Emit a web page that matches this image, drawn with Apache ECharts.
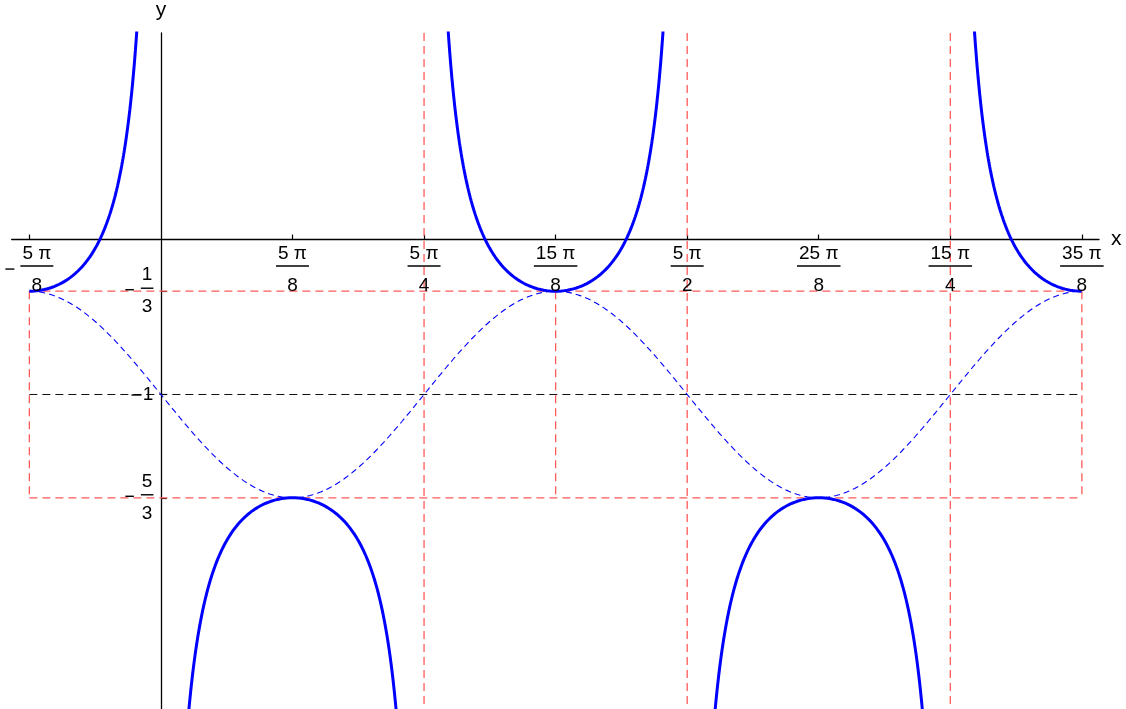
<!DOCTYPE html>
<html>
<head>
<meta charset="utf-8">
<title>y = −1 + (2/3)·sec(4/5 (x − 15π/8))</title>
<script src="https://cdn.jsdelivr.net/npm/echarts@6/dist/echarts.min.js"></script>
<style>
  html, body { margin: 0; padding: 0; background: #ffffff; }
  #chart { width: 1126px; height: 709px; }
</style>
</head>
<body>
<div id="chart"></div>
<script>
const PI = Math.PI;

// x tick positions, in multiples of π/8, and their fraction labels
const xTickEighths = [-5, 5, 10, 15, 20, 25, 30, 35];
const xTickNumerators = ['5 π', '5 π', '5 π', '15 π', '5 π', '25 π', '15 π', '35 π'];
const xTickDenominators = ['8', '8', '4', '8', '2', '8', '4', '8'];
const xTickNegative = [true, false, false, false, false, false, false, false];

// y tick positions and labels (all negative)
const yTickValues = [-1 / 3, -1, -5 / 3];
const yTickNumerators = ['1', '1', '5'];
const yTickDenominators = ['3', '', '3'];

// y = curveShift + curveAmplitude · sec(curveFrequency · (x − curvePeakX))
const curveShift = -1;
const curveAmplitude = 2 / 3;
const curveFrequency = 4 / 5;
const curvePeakX = 15 * PI / 8;
const curveDomain = [-5 * PI / 8, 35 * PI / 8];
// vertical asymptotes inside the domain (multiples of π/8)
const asymptoteEighths = [0, 10, 20, 30];
// asymptotes marked with a full-height red guide
const markedAsymptoteEighths = [10, 20, 30];
// guide box: extremes and midline of the curve
const guideTop = -1 / 3;
const guideMid = -1;
const guideBottom = -5 / 3;
const guideXEighths = [-5, 15, 35];

// view window
const xView = [-2.227, 14.0];
const yView = [-3.03, 4 / 3];

const FONT = '"Liberation Sans", Arial, sans-serif';
const LABEL_SIZE = 19;

const measureCtx = document.createElement('canvas').getContext('2d');
function textWidth(t) {
  measureCtx.font = LABEL_SIZE + 'px ' + FONT;
  return measureCtx.measureText(t).width;
}

// sampled secant branches, broken at every asymptote
function secantPoints() {
  const cuts = [curveDomain[0]].concat(asymptoteEighths.map(e => e * PI / 8)).concat([curveDomain[1]]);
  const pts = [];
  const n = 800;
  for (let s = 0; s < cuts.length - 1; s++) {
    const a = cuts[s], b = cuts[s + 1];
    const a0 = s === 0 ? a : a + 1e-4;
    const b0 = s === cuts.length - 2 ? b : b - 1e-4;
    for (let i = 0; i <= n; i++) {
      const x = a0 + (b0 - a0) * i / n;
      const c = Math.cos(curveFrequency * (x - curvePeakX));
      pts.push([x, curveShift + curveAmplitude / c]);
    }
    if (s < cuts.length - 2) pts.push([b, null]);
  }
  return pts;
}

// the matching cosine wave
function cosinePoints() {
  const pts = [];
  const n = 1200;
  for (let i = 0; i <= n; i++) {
    const x = curveDomain[0] + (curveDomain[1] - curveDomain[0]) * i / n;
    pts.push([x, curveShift + curveAmplitude * Math.cos(curveFrequency * (x - curvePeakX))]);
  }
  return pts;
}

// red dashed guide segments
function redGuides() {
  const d = [];
  const x0 = curveDomain[0], x1 = curveDomain[1];
  d.push([x0, guideTop], [x1, guideTop], [null, null]);
  d.push([x0, guideBottom], [x1, guideBottom], [null, null]);
  guideXEighths.forEach(e => {
    d.push([e * PI / 8, guideTop], [e * PI / 8, guideBottom], [null, null]);
  });
  markedAsymptoteEighths.forEach(e => {
    d.push([e * PI / 8, yView[1]], [e * PI / 8, yView[0]], [null, null]);
  });
  return d;
}

const xTickValues = xTickEighths.map(e => e * PI / 8);

function txt(text, x, y, align) {
  return {
    type: 'text',
    style: {
      text: text, x: x, y: y, align: align, verticalAlign: 'middle',
      fontSize: LABEL_SIZE, fontFamily: FONT, fill: '#000'
    }
  };
}
function bar(x1, x2, y) {
  return { type: 'line', shape: { x1: x1, y1: y, x2: x2, y2: y }, style: { stroke: '#000', lineWidth: 1.4 } };
}

function renderXLabel(params, api) {
  const i = params.dataIndex;
  const p = api.coord([api.value(0), 0]);
  const num = xTickNumerators[i], den = xTickDenominators[i];
  const barW = Math.max(textWidth(num), textWidth(den)) + 4;
  const minusW = xTickNegative[i] ? 9 : 0;
  const gap = xTickNegative[i] ? 6 : 0;
  const total = minusW + gap + barW;
  const left = p[0] - total / 2;
  const cx = left + minusW + gap + barW / 2;
  const children = [
    txt(num, cx, p[1] + 14, 'center'),
    bar(cx - barW / 2, cx + barW / 2, p[1] + 26.5),
    txt(den, cx, p[1] + 46, 'center')
  ];
  if (xTickNegative[i]) children.push(bar(left, left + minusW, p[1] + 29.5));
  return { type: 'group', children: children };
}

function renderYLabel(params, api) {
  const i = params.dataIndex;
  const p = api.coord([0, api.value(1)]);
  const num = yTickNumerators[i], den = yTickDenominators[i];
  const right = p[0] - 7.5;
  if (!den) {
    return { type: 'group', children: [
      bar(right - 22, right - 12, p[1] + 0.5),
      txt(num, right, p[1] + 0.5, 'right')
    ] };
  }
  const barW = Math.max(textWidth(num), textWidth(den)) + 2;
  const cx = right - barW / 2;
  const minusRight = right - barW - 7;
  return { type: 'group', children: [
    txt(num, cx, p[1] - 16, 'center'),
    bar(right - barW, right, p[1] - 3),
    txt(den, cx, p[1] + 16, 'center'),
    bar(minusRight - 8.5, minusRight, p[1] - 1.5)
  ] };
}

const chart = echarts.init(document.getElementById('chart'), null, { renderer: 'canvas' });

chart.setOption({
  animation: false,
  backgroundColor: '#ffffff',
  grid: { left: 11.7, right: 27, top: 33, bottom: 0, containLabel: false },
  xAxis: {
    type: 'value',
    min: xView[0],
    max: xView[1],
    name: 'x',
    nameLocation: 'end',
    nameGap: 12,
    nameTextStyle: { fontFamily: FONT, fontSize: 21, color: '#000', verticalAlign: 'middle', padding: [0, 0, 3, 0] },
    axisLine: { show: true, onZero: true, lineStyle: { color: '#000', width: 1.3 } },
    axisTick: { show: true, inside: true, length: 5, customValues: xTickValues, lineStyle: { color: '#000', width: 1.2 } },
    axisLabel: { show: false },
    splitLine: { show: false }
  },
  yAxis: {
    type: 'value',
    min: yView[0],
    max: yView[1],
    name: 'y',
    nameLocation: 'end',
    nameGap: 12,
    nameTextStyle: { fontFamily: FONT, fontSize: 21, color: '#000', align: 'center' },
    axisLine: { show: true, onZero: true, lineStyle: { color: '#000', width: 1.3 } },
    axisTick: { show: true, inside: true, length: 6, customValues: yTickValues, lineStyle: { color: '#000', width: 1.2 } },
    axisLabel: { show: false },
    splitLine: { show: false }
  },
  series: [
    {
      name: 'guides',
      type: 'line',
      data: redGuides(),
      showSymbol: false,
      connectNulls: false,
      silent: true,
      z: 1,
      lineStyle: { color: '#ff5a5a', width: 1.3, type: [8, 5] }
    },
    {
      name: 'midline',
      type: 'line',
      data: [[curveDomain[0], guideMid], [curveDomain[1], guideMid]],
      showSymbol: false,
      silent: true,
      z: 1,
      lineStyle: { color: '#111', width: 1, type: [8, 5] }
    },
    {
      name: 'cosine',
      type: 'line',
      data: cosinePoints(),
      showSymbol: false,
      silent: true,
      z: 2,
      lineStyle: { color: '#0000ff', width: 1.1, type: [6, 4] }
    },
    {
      name: 'secant',
      type: 'line',
      data: secantPoints(),
      showSymbol: false,
      connectNulls: false,
      silent: true,
      clip: true,
      z: 3,
      lineStyle: { color: '#0000ff', width: 3 }
    },
    {
      name: 'xLabels',
      type: 'custom',
      coordinateSystem: 'cartesian2d',
      data: xTickValues.map(v => [v, 0]),
      renderItem: renderXLabel,
      clip: false,
      silent: true,
      z: 5
    },
    {
      name: 'yLabels',
      type: 'custom',
      coordinateSystem: 'cartesian2d',
      data: yTickValues.map(v => [0, v]),
      renderItem: renderYLabel,
      clip: false,
      silent: true,
      z: 5
    }
  ]
});
</script>
</body>
</html>
